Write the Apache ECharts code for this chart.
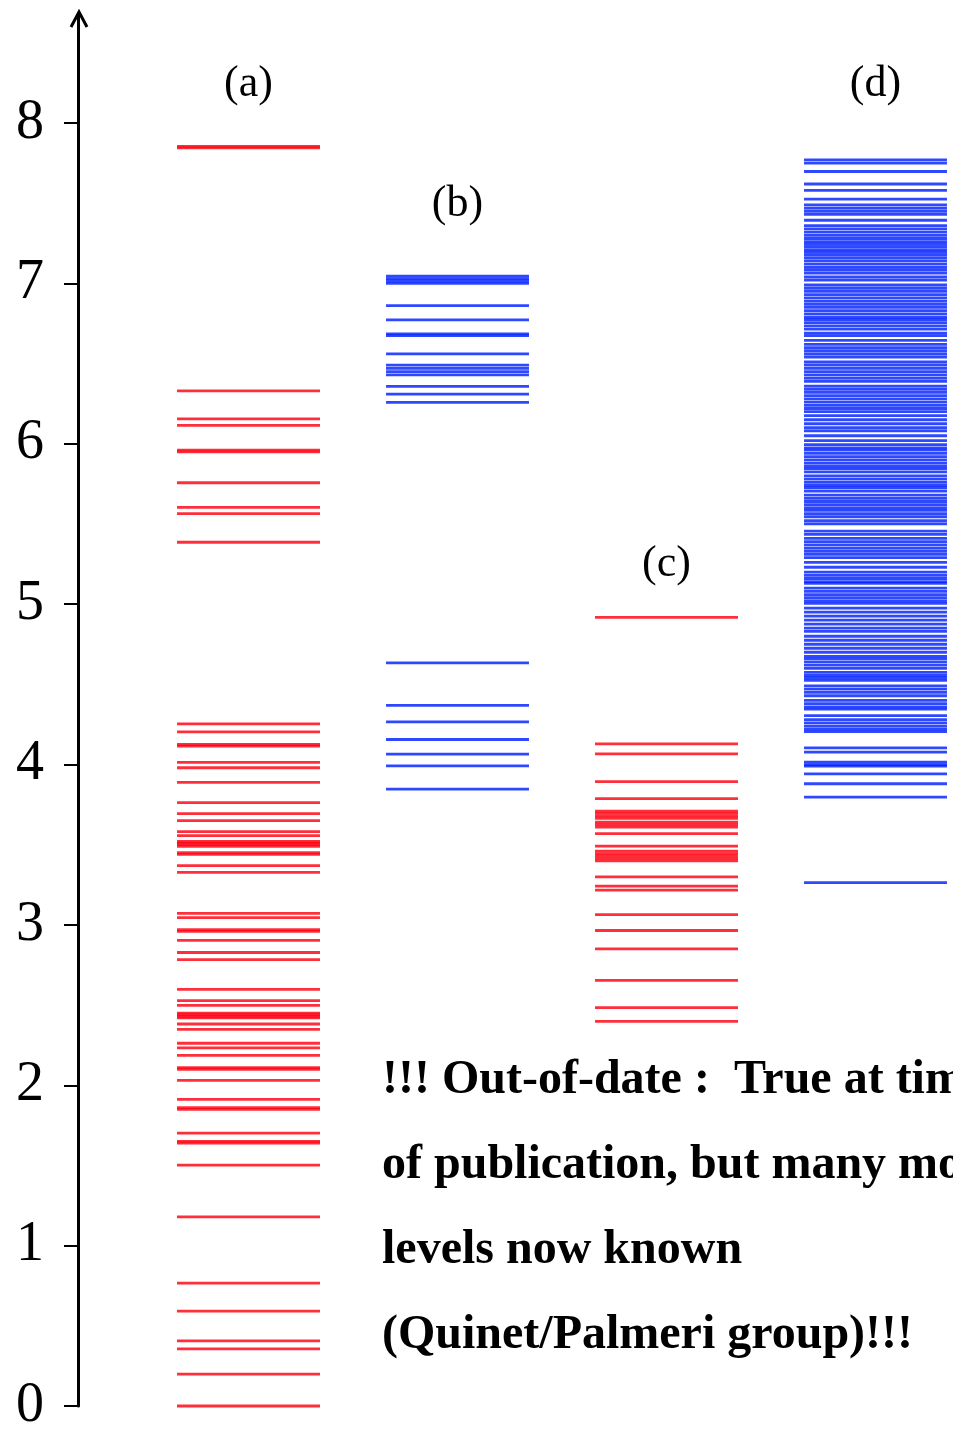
<!DOCTYPE html>
<html>
<head>
<meta charset="utf-8">
<script src="https://cdn.jsdelivr.net/npm/echarts@6/dist/echarts.min.js"></script>
<style>
html, body { margin: 0; padding: 0; background: #fff; }
#chart { width: 953px; height: 1434px; }
</style>
</head>
<body>
<div id="chart"></div>
<script>
// column names
var columns = ['(a)', '(b)', '(c)', '(d)'];

// energy levels (axis units)
var levelsA = [7.855, 7.845, 6.33, 6.155, 6.115, 5.96, 5.95, 5.757, 5.604, 5.564, 5.386,
    4.253, 4.203, 4.125, 4.115, 4.013, 3.98, 3.889, 3.762, 3.694, 3.65, 3.582, 3.557,
    3.52, 3.51, 3.50, 3.49, 3.45, 3.44, 3.369, 3.327, 3.072, 3.045, 2.97, 2.96, 2.904,
    2.828, 2.784, 2.598, 2.528, 2.498, 2.45, 2.44, 2.43, 2.42, 2.382, 2.349, 2.262,
    2.233, 2.186, 2.11, 2.10, 2.03, 1.912, 1.86, 1.85, 1.701, 1.65, 1.64, 1.502,
    1.179, 0.766, 0.592, 0.406, 0.356, 0.199, 0.0];

var levelsB = [7.045, 7.03, 7.015, 7.0, 6.861, 6.773, 6.685, 6.675, 6.561, 6.49, 6.47,
    6.45, 6.43, 6.358, 6.31, 6.258, 4.634, 4.369, 4.266, 4.156, 4.065, 3.992, 3.847];

var levelsC = [4.918, 4.129, 4.067, 3.893, 3.787, 3.71, 3.695, 3.68, 3.665, 3.64, 3.625,
    3.61, 3.569, 3.491, 3.46, 3.445, 3.43, 3.415, 3.40, 3.30, 3.242, 3.217, 3.064,
    2.965, 2.851, 2.654, 2.484, 2.399];

var levelsD = [7.77, 7.75, 7.698, 7.62, 7.58, 7.526, 7.49, 7.47, 7.45, 7.43, 7.394,
    7.36, 7.34, 7.32, 7.30, 7.28, 7.26, 7.245, 7.23, 7.21, 7.195, 7.18, 7.16, 7.14,
    7.12, 7.10, 7.085, 7.065, 7.04, 7.02, 6.99, 6.97, 6.95, 6.93, 6.91, 6.89, 6.87,
    6.85, 6.83, 6.81, 6.79, 6.775, 6.755, 6.735, 6.715, 6.69, 6.675, 6.645, 6.62,
    6.60, 6.58, 6.56, 6.54, 6.51, 6.49, 6.47, 6.45, 6.43, 6.41, 6.39, 6.36, 6.34,
    6.32, 6.30, 6.28, 6.26, 6.24, 6.22, 6.20, 6.175, 6.15, 6.125, 6.10, 6.08, 6.05,
    6.02, 5.995, 5.975, 5.96, 5.94, 5.92, 5.90, 5.88, 5.86, 5.845, 5.825, 5.80, 5.78,
    5.76, 5.74, 5.725, 5.705, 5.68, 5.66, 5.64, 5.62, 5.60, 5.585, 5.565, 5.545,
    5.52, 5.50, 5.455, 5.435, 5.41, 5.39, 5.37, 5.35, 5.33, 5.31, 5.29, 5.26, 5.23,
    5.20, 5.18, 5.16, 5.14, 5.13, 5.10, 5.08, 5.06, 5.04, 5.02, 5.005, 4.975, 4.95,
    4.925, 4.90, 4.875, 4.85, 4.83, 4.80, 4.775, 4.75, 4.725, 4.70, 4.675, 4.66,
    4.64, 4.62, 4.60, 4.575, 4.555, 4.54, 4.525, 4.49, 4.47, 4.45, 4.429, 4.40,
    4.38, 4.36, 4.345, 4.305, 4.28, 4.26, 4.24, 4.22, 4.205, 4.104, 4.077, 4.015,
    4.0, 3.99, 3.942, 3.88, 3.797, 3.263];

// height of the column captions
var captionY = [8.24, 7.495, 5.245, 8.24];

var yTicks = [0, 1, 2, 3, 4, 5, 6, 7, 8];

var noteText = '!!! Out-of-date :  True at time\nof publication, but many more\nlevels now known\n(Quinet/Palmeri group)!!!';

function toData(col, arr) {
    return arr.map(function (v) { return [col, v]; });
}

function renderLevel(params, api) {
    var c = api.coord([api.value(0), api.value(1)]);
    var w = api.size([1, 0])[0] * 0.342;
    return {
        type: 'line',
        shape: { x1: c[0] - w, y1: c[1], x2: c[0] + w, y2: c[1] },
        style: { stroke: api.visual('color'), lineWidth: 2.8, opacity: 0.82 }
    };
}

function renderCaption(params, api) {
    var c = api.coord([api.value(0), api.value(1)]);
    return {
        type: 'text',
        x: c[0],
        y: c[1],
        style: {
            text: columns[params.dataIndex],
            fill: '#000',
            font: '44px "Liberation Serif", serif',
            textAlign: 'center',
            textVerticalAlign: 'middle'
        }
    };
}

function levelSeries(col, arr, color) {
    return {
        type: 'custom',
        renderItem: renderLevel,
        itemStyle: { color: color },
        data: toData(col, arr),
        silent: true,
        animation: false
    };
}

var chart = echarts.init(document.getElementById('chart'));
var option = {
    animation: false,
    backgroundColor: '#fff',
    grid: { left: 78, right: 0, top: 14, bottom: 20 },
    xAxis: {
        type: 'value',
        min: -0.8158,
        max: 3.3708,
        show: false
    },
    yAxis: {
        type: 'value',
        min: 0,
        max: 8.68,
        interval: 1,
        axisLine: { show: true, onZero: false, lineStyle: { color: '#000', width: 3 } },
        axisTick: { show: true, length: 14, lineStyle: { color: '#000', width: 2 } },
        axisLabel: {
            margin: 34,
            color: '#000',
            fontSize: 56,
            fontFamily: '"Liberation Serif", serif',
            showMaxLabel: false,
            formatter: function (v) { return yTicks.indexOf(v) >= 0 ? v : ''; }
        },
        splitLine: { show: false }
    },
    graphic: [
        {
            type: 'polyline',
            shape: { points: [[71, 27], [79, 12], [87, 27]] },
            style: { stroke: '#000', lineWidth: 3, fill: null }
        },
        {
            type: 'text',
            left: 382,
            top: 1038,
            style: {
                text: noteText,
                font: 'bold 48px "Liberation Serif", serif',
                lineHeight: 85,
                fill: '#000'
            }
        }
    ],
    series: [
        levelSeries(0, levelsA, '#ff0010'),
        levelSeries(1, levelsB, '#0020ff'),
        levelSeries(2, levelsC, '#ff0010'),
        levelSeries(3, levelsD, '#0020ff'),
        {
            type: 'custom',
            renderItem: renderCaption,
            data: captionY.map(function (v, i) { return [i, v]; }),
            silent: true
        }
    ]
};
chart.setOption(option);
</script>
</body>
</html>
